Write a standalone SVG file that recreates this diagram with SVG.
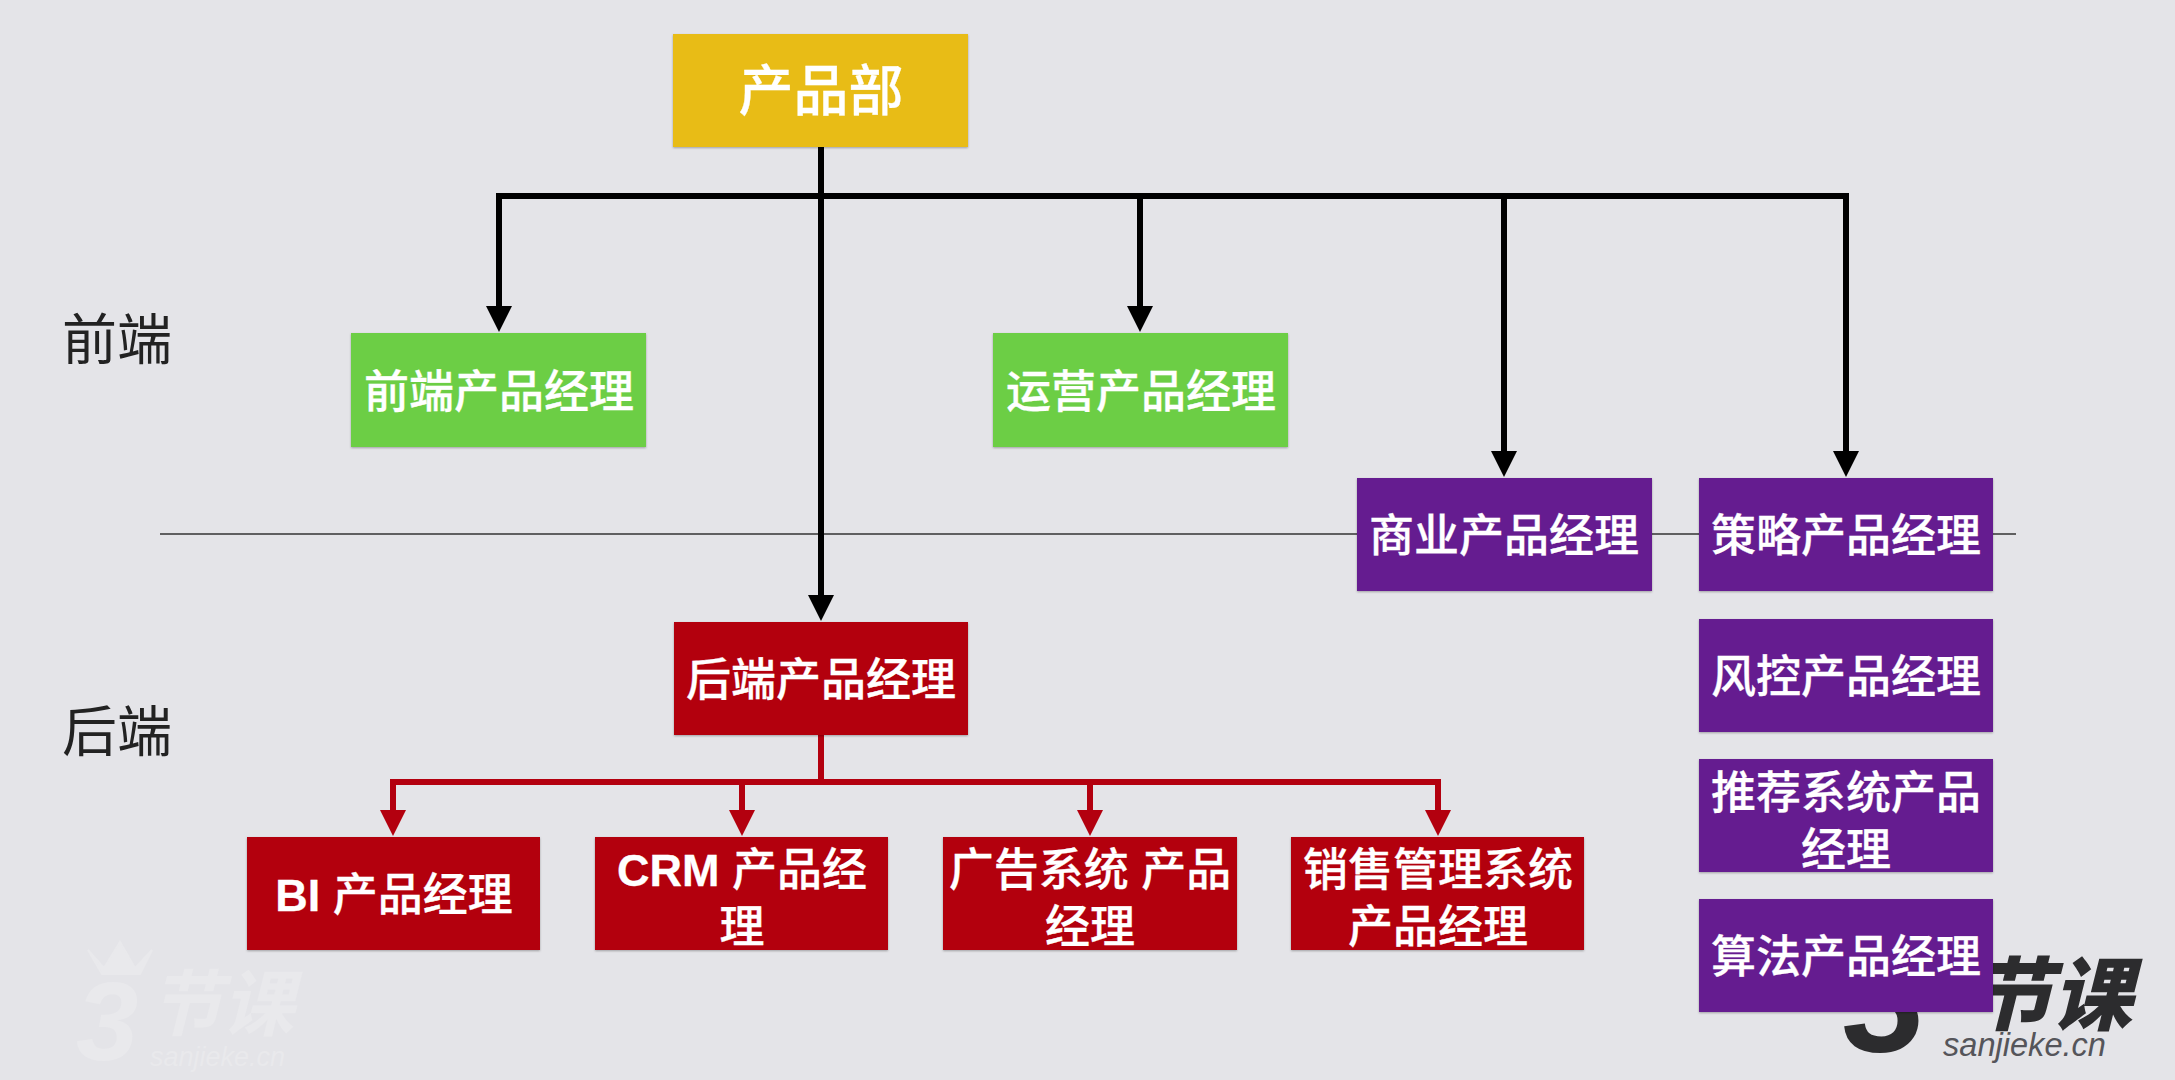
<svg xmlns="http://www.w3.org/2000/svg" width="2175" height="1080" viewBox="0 0 2175 1080">
<style>
text{font-family:"Noto Sans CJK SC","Liberation Sans",sans-serif}
.n{fill:#fff;stroke:#fff;stroke-width:.3;font-size:45px;font-weight:500;text-anchor:middle;font-family:"Liberation Sans","Noto Sans CJK SC",sans-serif}
.n2{font-size:55px}
.l{font-weight:700}
.s{font-size:55px;fill:#222;font-weight:400}
.y{fill:#e8bc14}.g{fill:#6cce44}.p{fill:#651a90}.r{fill:#b3000f}
.b{fill:none;stroke:#000;stroke-width:6}
.c{fill:none;stroke:#b3000f;stroke-width:6}
.la{font-family:"Liberation Sans",sans-serif}
</style>
<defs>
<filter id="sh" x="-2%" y="-3%" width="104%" height="108%"><feDropShadow dx="0" dy="1" stdDeviation="1" flood-color="#000" flood-opacity=".3"/></filter>
<marker id="ab" markerUnits="userSpaceOnUse" markerWidth="26" markerHeight="26" refX="0" refY="13" orient="auto"><path d="M0 0L26 13L0 26z" fill="#000"/></marker>
<marker id="ar" markerUnits="userSpaceOnUse" markerWidth="26" markerHeight="26" refX="0" refY="13" orient="auto"><path d="M0 0L26 13L0 26z" fill="#b3000f"/></marker>
</defs>
<rect width="2175" height="1080" fill="#e4e4e8"/>
<g id="watermarks">
<g id="logo-faint" fill="#e9e9ec" font-style="italic">
<path d="M88 950L104 968L120 942L135 968L152 950L140 974H102z" stroke="#e9e9ec" stroke-width="2"/>
<text class="la" x="76" y="1060" font-size="112" font-weight="700">3</text>
<text x="150" y="1030" font-size="72" font-weight="700">节课</text>
<text class="la" x="150" y="1066" font-size="27">sanjieke.cn</text>
</g>
<g id="logo" fill="#2c2c2e" font-style="italic">
<text class="la" x="1843" y="1052" font-size="150" font-weight="700">3</text>
<text x="1972" y="1024" font-size="80" font-weight="900">节课</text>
<text class="la" x="1943" y="1056" font-size="32.6" fill="#55555a">sanjieke.cn</text>
</g>
</g>
<line id="divider" x1="160" y1="534" x2="2016" y2="534" stroke="#333" stroke-width="1.5"/>
<g id="connectors">
<path class="b" d="M496 196H1849"/>
<path class="b" d="M821 147V595" marker-end="url(#ab)"/>
<path class="b" d="M499 193V306" marker-end="url(#ab)"/>
<path class="b" d="M1140 196V306" marker-end="url(#ab)"/>
<path class="b" d="M1504 196V451" marker-end="url(#ab)"/>
<path class="b" d="M1846 193V451" marker-end="url(#ab)"/>
<path class="c" d="M821 735V782"/>
<path class="c" d="M390 782H1441"/>
<path class="c" d="M393 779V810" marker-end="url(#ar)"/>
<path class="c" d="M742 782V810" marker-end="url(#ar)"/>
<path class="c" d="M1090 782V810" marker-end="url(#ar)"/>
<path class="c" d="M1438 779V810" marker-end="url(#ar)"/>
</g>
<text class="s" x="62" y="359">前端</text>
<text class="s" x="62" y="751">后端</text>
<g id="n-product"><rect class="y" x="673" y="34" width="295" height="113" filter="url(#sh)"/><text class="n n2" x="821" y="110">产品部</text></g>
<g id="n-front"><rect class="g" x="351" y="333" width="295" height="114" filter="url(#sh)"/><text class="n" x="499" y="408">前端产品经理</text></g>
<g id="n-ops"><rect class="g" x="993" y="333" width="295" height="114" filter="url(#sh)"/><text class="n" x="1141" y="408">运营产品经理</text></g>
<g id="n-biz"><rect class="p" x="1357" y="478" width="295" height="113" filter="url(#sh)"/><text class="n" x="1504" y="552">商业产品经理</text></g>
<g id="n-strategy"><rect class="p" x="1699" y="478" width="294" height="113" filter="url(#sh)"/><text class="n" x="1846" y="552">策略产品经理</text></g>
<g id="n-risk"><rect class="p" x="1699" y="619" width="294" height="113" filter="url(#sh)"/><text class="n" x="1846" y="693">风控产品经理</text></g>
<g id="n-rec"><rect class="p" x="1699" y="759" width="294" height="113" filter="url(#sh)"/><text class="n" x="1846" y="809">推荐系统产品</text><text class="n" x="1846" y="866">经理</text></g>
<g id="n-algo"><rect class="p" x="1699" y="899" width="294" height="113" filter="url(#sh)"/><text class="n" x="1846" y="973">算法产品经理</text></g>
<g id="n-back"><rect class="r" x="674" y="622" width="294" height="113" filter="url(#sh)"/><text class="n" x="821" y="696">后端产品经理</text></g>
<g id="n-bi"><rect class="r" x="247" y="837" width="293" height="113" filter="url(#sh)"/><text class="n" x="394" y="911"><tspan class="l">BI</tspan> 产品经理</text></g>
<g id="n-crm"><rect class="r" x="595" y="837" width="293" height="113" filter="url(#sh)"/><text class="n" x="742" y="886"><tspan class="l">CRM</tspan> 产品经</text><text class="n" x="742" y="943">理</text></g>
<g id="n-ad"><rect class="r" x="943" y="837" width="294" height="113" filter="url(#sh)"/><text class="n" x="1090" y="886">广告系统 产品</text><text class="n" x="1090" y="943">经理</text></g>
<g id="n-sales"><rect class="r" x="1291" y="837" width="293" height="113" filter="url(#sh)"/><text class="n" x="1438" y="886">销售管理系统</text><text class="n" x="1438" y="943">产品经理</text></g>
</svg>
